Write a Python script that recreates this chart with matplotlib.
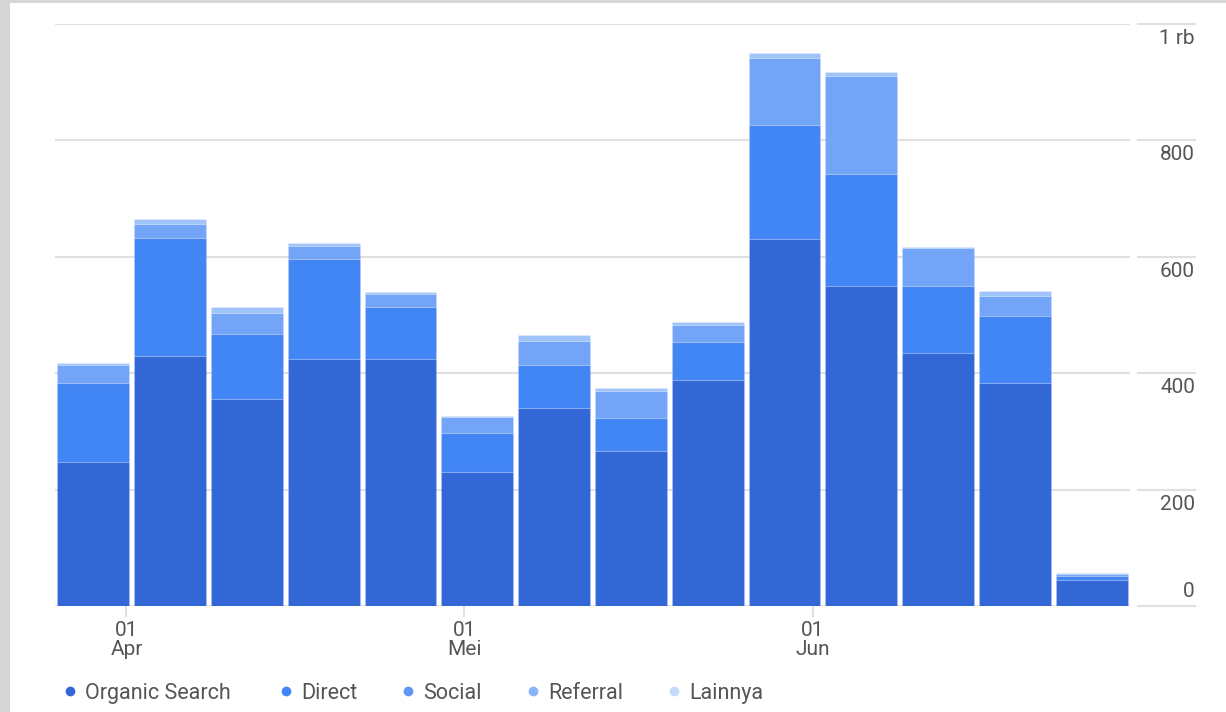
import numpy as np
import matplotlib
matplotlib.use("Agg")
import matplotlib.pyplot as plt
from matplotlib.patches import Rectangle
from matplotlib.lines import Line2D
import matplotlib.transforms as mtransforms

plt.rcParams["font.family"] = ["Roboto", "DejaVu Sans"]

# weekly sessions by channel (stacked)
organic  = [247, 430, 356, 424, 424, 231, 340, 266, 388, 631, 549, 434, 383, 45]
direct   = [136, 203, 112, 173,  90,  67,  74,  57,  65, 195, 194, 115, 115,  6]
social   = [ 31,  23,  36,  22,  22,  26,  42,  46,  30, 116, 168,  66,  35,  4]
referral = [  3,   9,   9,   4,   3,   2,  10,   6,   5,   8,   6,   2,   9,  1]
lainnya  = [  0,   0,   0,   0,   0,   0,   0,   0,   0,   0,   0,   0,   0,  0]

series_names = ["Organic Search", "Direct", "Social", "Referral", "Lainnya"]
bar_colors   = ["#3367d6", "#4285f4", "#72a4f7", "#a0c3fa", "#c6dafc"]
legend_colors = ["#3367d6", "#4285f4", "#5e97f6", "#8ab4f8", "#c6dafc"]

y_ticks  = [0, 200, 400, 600, 800, 1000]
y_labels = ["0", "200", "400", "600", "800", "1 rb"]
x_tick_pos    = [0.43, 4.83, 9.37]
x_tick_labels = ["01\nApr", "01\nMei", "01\nJun"]

W, H = 1226, 712
fig = plt.figure(figsize=(W / 100, H / 100), dpi=100)
fig.patch.set_facecolor("#d6d6d6")
fig.add_artist(Rectangle((10 / W, 0), 1 - 10 / W, 1 - 3 / H,
                         transform=fig.transFigure, facecolor="white",
                         edgecolor="none", zorder=0))

ax = fig.add_axes([55 / W, (H - 606) / H, 1075 / W, 582 / H])
ax.set_facecolor("none")
x = np.arange(len(organic))
ax.set_xlim(-0.5, len(organic) - 0.5)
ax.set_ylim(0, 1000)

grid_c = "#e0e0e0"
txt_c = "#555555"
for yv in y_ticks:
    ax.axhline(yv, color=grid_c, lw=1.5, zorder=1)

bottom = np.zeros(len(organic))
for vals, col in zip([organic, direct, social, referral, lainnya], bar_colors):
    v = np.array(vals, dtype=float)
    ax.bar(x, v, 0.935, bottom=bottom, color=col,
           edgecolor=(1, 1, 1, 0.12), linewidth=0.8, zorder=2)
    bottom += v

for s in ax.spines.values():
    s.set_visible(False)
ax.set_yticks([])
ax.set_xticks(x_tick_pos)
ax.set_xticklabels(x_tick_labels, fontsize=15, color=txt_c, linespacing=1.0)
ax.tick_params(axis="x", length=8, width=1.5, color=grid_c, pad=3)

# right-side value labels with their own short rule
tr = mtransforms.blended_transform_factory(fig.transFigure, ax.transData)
for yv, lab in zip(y_ticks, y_labels):
    ax.add_line(Line2D([1138 / W, 1195 / W], [yv, yv], transform=tr,
                       color=grid_c, lw=1.5, clip_on=False))
    va = "bottom" if yv == 0 else "top"
    off = 5 if yv == 0 else -5
    ax.annotate(lab, (1195 / W, yv), xycoords=tr, xytext=(0, off),
                textcoords="offset pixels", ha="right", va=va,
                fontsize=15, color=txt_c)

# legend, laid out by hand like the original
dot_x = [70, 286, 408, 533, 674]
leg_y = 1 - 691 / H
for dx, name, col in zip(dot_x, series_names, legend_colors):
    fig.add_artist(Line2D([dx / W], [leg_y], marker="o", ms=6, ls="none",
                          color=col, transform=fig.transFigure))
    fig.text((dx + 15) / W, leg_y, name, fontsize=15.5, color=txt_c,
             ha="left", va="center_baseline")

fig.savefig("out.png", dpi=100)
